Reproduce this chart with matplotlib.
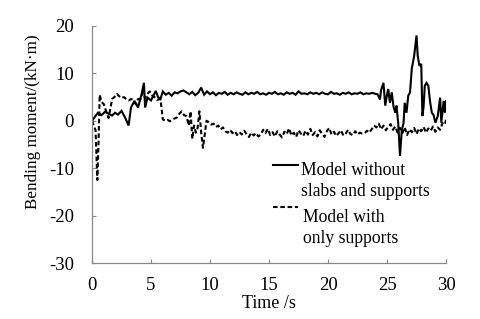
import matplotlib
matplotlib.use("Agg")
import matplotlib.pyplot as plt
import numpy as np

# ---- data: solid series (Model without slabs and supports)
t_solid_a = [0, 0.3, 0.5, 0.8, 1.1, 1.4, 1.7, 1.95, 2.2, 2.5, 2.8, 3.1, 3.3, 3.6, 3.9,
             4.2, 4.4, 4.5, 4.7, 5.0, 5.2, 5.4, 5.6, 5.8]
m_solid_a = [0, 1.0, 1.7, 1.2, 1.9, 1.5, 1.1, 1.7, 1.3, 2.1, 0.7, -1.0, 2.8, 4.2, 2.8,
             5.6, 8.0, 2.8, 4.9, 4.3, 5.3, 6.3, 5.0, 4.6]
t_solid_b = list(np.arange(6.0, 24.01, 0.25).round(2))
m_solid_b = [6.2, 5.5, 5.9, 5.3, 6.0, 5.8, 6.2, 6.4, 6.0, 5.6, 6.1, 5.4, 5.9, 7.0, 5.5, 6.2,
             5.6, 6.0, 5.4, 5.9, 5.7, 6.1, 5.5, 5.9, 5.6, 6.0, 5.7, 5.5, 6.0, 5.6, 5.9, 5.7,
             6.1, 5.6, 5.8, 5.5, 5.9, 5.7, 6.1, 5.6, 5.8, 5.5, 6.0, 5.7, 5.9, 5.5, 6.2, 5.7,
             5.8, 5.6, 6.0, 5.7, 5.9, 5.6, 6.0, 5.7, 5.6, 6.1, 5.7, 5.8, 5.5, 5.9, 5.7, 6.0,
             5.6, 5.8, 5.7, 6.0, 5.6, 5.8, 5.7, 5.9, 5.7]
t_solid_c = [24.2, 24.4, 24.5, 24.7, 24.85, 25.0, 25.1, 25.25, 25.4, 25.55, 25.7, 25.8, 25.95,
             26.1, 26.25, 26.4, 26.5, 26.65, 26.8, 26.95, 27.1, 27.3, 27.5, 27.6, 27.75, 27.9,
             28.0, 28.1, 28.2, 28.35, 28.5, 28.65, 28.8, 28.95, 29.1, 29.3, 29.5, 29.6, 29.8,
             29.9, 30.0]
m_solid_c = [5.6, 4.5, 6.5, 8.0, 3.2, 5.5, 6.7, 3.8, 6.0, 3.0, 1.7, 3.2, -0.5,
             -7.4, -2.0, -0.5, 3.8, 1.7, 5.3, 6.0, 11.0, 13.7, 18.0, 13.7, 11.6, 12.0,
             1.0, 3.0, 7.4, 8.0, 7.4, 4.0, 1.7, 1.2, -0.4, 1.0, 4.9, -0.4, 4.2,
             1.7, 4.2]
t_solid = t_solid_a + t_solid_b + t_solid_c
m_solid = m_solid_a + m_solid_b + m_solid_c

# ---- data: dashed series (Model with only supports)
t_dash_a = [0, 0.3, 0.45, 0.55, 0.65, 0.8, 1.0, 1.2, 1.4, 1.55, 1.7, 1.9, 2.1, 2.3, 2.5, 2.7,
            2.9, 3.1, 3.3, 3.5, 3.7, 3.9, 4.1, 4.3, 4.5, 4.7, 4.9, 5.1, 5.3, 5.5, 5.8, 5.9,
            6.0, 6.2, 6.4, 6.6, 6.8, 7.0, 7.2, 7.4, 7.6, 7.8, 8.0, 8.2, 8.35, 8.5, 8.65, 8.8,
            8.95, 9.1, 9.25, 9.4, 9.55, 9.7]
m_dash_a = [0, -2.0, -12.5, -5.0, 5.5, 4.0, 3.5, 2.0, 0.6, 2.5, 4.6, 5.0, 5.7, 5.2, 4.8, 5.0,
            4.6, 4.3, 4.6, 4.4, 3.5, 4.6, 4.6, 6.0, 4.8, 5.7, 6.2, 5.3, 5.0, 4.4, 4.6, 2.5,
            0.3, 0.0, 0.2, -0.1, 0.2, 0.5, 0.7, 1.5, 2.0, 1.2, 1.0, -1.0, 2.0, -3.8, -1.0, -2.5,
            -1.5, 2.0, -2.5, -5.7, -3.0, 0.0]
t_dash_b = list(np.arange(9.9, 29.91, 0.2).round(2))
m_dash_b = [-0.3, -0.8, -0.6, -1.3, -1.0, -1.8, -1.4, -2.2, -2.5, -1.9, -2.6, -2.2, -3.0, -2.4,
            -2.9, -2.1, -2.8, -3.4, -2.5, -3.1, -2.6, -3.3, -2.9, -1.9, -2.6, -1.7, -3.0, -2.4,
            -3.3, -2.2, -2.9, -3.5, -2.3, -2.8, -1.6, -3.1, -2.5, -3.4, -2.0, -2.7, -3.2, -2.1,
            -2.9, -1.7, -3.0, -2.4, -3.3, -2.0, -2.8, -3.4, -2.2, -1.5, -2.9, -2.3, -3.2, -2.6,
            -2.0, -3.1, -2.7, -1.9, -2.8, -3.0, -2.2, -2.9, -2.5, -2.7, -2.6, -2.1, -2.5, -1.8,
            -1.0, -1.4, -0.6, -1.8, -1.0, -2.0, -1.3, -0.7, -1.9, -1.2, -2.5, -1.5, -2.6, -1.4,
            -3.0, -1.8, -2.4, -1.5, -2.8, -1.6, -2.2, -1.3, -2.5, -1.6, -2.1, -1.2, -2.3, -1.4,
            -1.9, -0.5, -0.8]
t_dash_b = t_dash_b[:len(m_dash_b)]
t_dash = t_dash_a + t_dash_b + [30.0]
m_dash = m_dash_a + m_dash_b + [0.2]

x_ticks = [0, 5, 10, 15, 20, 25, 30]
y_ticks = [-30, -20, -10, 0, 10, 20]
label_solid = ["Model without", "slabs and supports"]
label_dash = ["Model with", "only supports"]

plt.rcParams['font.family'] = ['Liberation Serif', 'DejaVu Serif']
plt.rcParams['axes.unicode_minus'] = False

fig = plt.figure(figsize=(4.8, 3.19), dpi=100)
ax = fig.add_axes([0.1917, 0.1755, 0.7375, 0.743])

ax.plot(t_solid, m_solid, color='black', lw=1.5, solid_joinstyle='miter')
ax.plot(t_dash, m_dash, color='black', lw=1.5, linestyle=(0, (2.2, 1.3)))

ax.set_xlim(0, 30)
ax.set_ylim(-30, 20)
ax.set_xticks(x_ticks)
ax.set_yticks(y_ticks)
ax.tick_params(direction='in', length=3, width=0.8, color='#888888', labelsize=13.5)
ax.tick_params(axis='x', pad=10)
ax.tick_params(axis='y', pad=13)
for s in ['top', 'right']:
    ax.spines[s].set_visible(False)
for s in ['left', 'bottom']:
    ax.spines[s].set_color('#888888')
    ax.spines[s].set_linewidth(0.9)

ax.set_xlabel("Time /s", fontsize=13)
ax.xaxis.set_label_coords(0.5, -0.135)
ax.xaxis.label.set_va('top')
ax.set_ylabel("Bending moment/(kN\u00b7m)", fontsize=12.3)
ax.yaxis.set_label_coords(-0.145, 0.595)

# legend drawn in axes coordinates
ax.plot([0.511, 0.582], [0.4135, 0.4135], color='black', lw=1.5, transform=ax.transAxes)
ax.plot([0.511, 0.582], [0.236, 0.236], color='black', lw=1.5, linestyle=(0, (2.2, 1.3)),
        transform=ax.transAxes)
ax.text(0.590, 0.392, label_solid[0], transform=ax.transAxes, fontsize=12.7, va='center')
ax.text(0.590, 0.300, label_solid[1], transform=ax.transAxes, fontsize=12.7, va='center')
ax.text(0.595, 0.194, label_dash[0], transform=ax.transAxes, fontsize=12.7, va='center')
ax.text(0.595, 0.105, label_dash[1], transform=ax.transAxes, fontsize=12.7, va='center')

fig.savefig("out.png", dpi=100)
